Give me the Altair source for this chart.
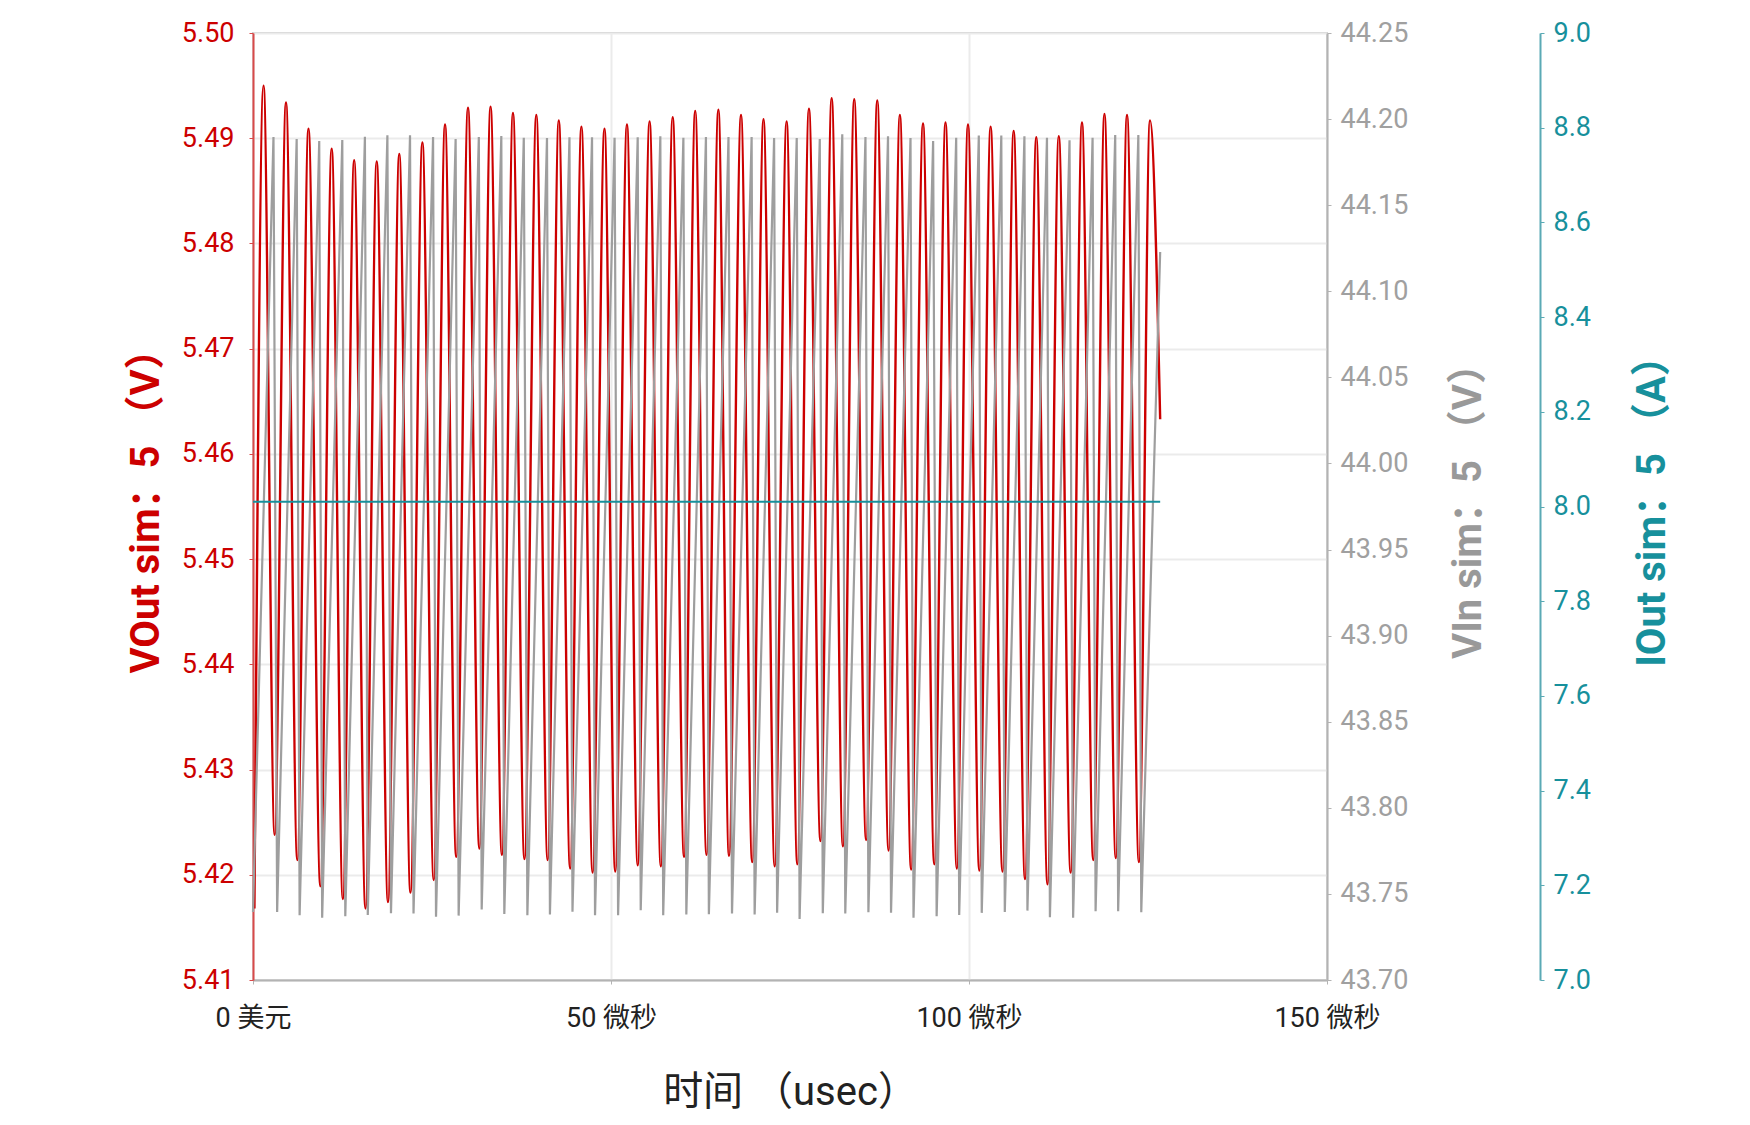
import altair as alt
import pandas as pd

# VOut sim (red) - turning points, time in usec
red_peak_t = [1.47, 4.61, 7.75, 10.99, 14.13, 17.28, 20.43, 23.66, 26.82, 30.03,
              33.18, 36.31, 39.57, 42.71, 45.87, 49.09, 52.23, 55.39, 58.62, 61.76,
              65.00, 68.16, 71.30, 74.53, 77.65, 80.82, 83.97, 87.19, 90.35, 93.58,
              96.72, 99.86, 103.02, 106.24, 109.40, 112.54, 115.78, 118.92, 122.07, 125.28]
red_peak_v = [5.4950, 5.4934, 5.4909, 5.4890, 5.4879, 5.4878, 5.4885, 5.4896, 5.4913, 5.4929,
              5.4930, 5.4924, 5.4922, 5.4917, 5.4911, 5.4909, 5.4913, 5.4916, 5.4920, 5.4926,
              5.4927, 5.4922, 5.4918, 5.4916, 5.4928, 5.4938, 5.4937, 5.4936, 5.4922, 5.4914,
              5.4915, 5.4913, 5.4911, 5.4907, 5.4901, 5.4902, 5.4915, 5.4923, 5.4922, 5.4917]
red_trough_t = [3.03, 6.19, 9.41, 12.55, 15.71, 18.85, 21.99, 25.24, 28.38, 31.61,
                34.76, 37.91, 41.15, 44.29, 47.43, 50.59, 53.73, 56.96, 60.20, 63.34,
                66.48, 69.72, 72.86, 76.02, 79.25, 82.39, 85.63, 88.77, 91.91, 95.15,
                98.30, 101.44, 104.68, 107.82, 110.96, 114.20, 117.35, 120.50, 123.73]
red_trough_v = [5.4238, 5.4214, 5.4189, 5.4177, 5.4168, 5.4174, 5.4183, 5.4195, 5.4217, 5.4225,
                5.4219, 5.4215, 5.4214, 5.4206, 5.4202, 5.4203, 5.4209, 5.4208, 5.4217, 5.4219,
                5.4218, 5.4212, 5.4208, 5.4210, 5.4232, 5.4227, 5.4233, 5.4223, 5.4205, 5.4210,
                5.4206, 5.4204, 5.4203, 5.4196, 5.4191, 5.4202, 5.4214, 5.4216, 5.4212]
red_edge_t = [0.2, 126.7]
red_edge_v = [5.4168, 5.4633]

# VIn sim (gray) - sawtooth peaks and troughs
gray_peak_t = [2.86, 6.10, 9.25, 12.47, 15.63, 18.77, 21.93, 25.15, 28.30, 31.54,
               34.68, 37.82, 41.06, 44.20, 47.35, 50.50, 53.73, 56.89, 60.11, 63.26,
               66.41, 69.64, 72.78, 75.94, 79.16, 82.30, 85.54, 88.69, 91.83, 94.99,
               98.21, 101.37, 104.51, 107.74, 110.89, 114.04, 117.26, 120.42, 123.65]
gray_peak_v = [44.1896, 44.1884, 44.1873, 44.1879, 44.1898, 44.1906, 44.1906, 44.1896, 44.1884, 44.1896,
               44.1902, 44.1892, 44.1890, 44.1894, 44.1894, 44.1892, 44.1894, 44.1900, 44.1892, 44.1896,
               44.1896, 44.1896, 44.1890, 44.1890, 44.1884, 44.1912, 44.1896, 44.1900, 44.1890, 44.1873,
               44.1892, 44.1904, 44.1904, 44.1900, 44.1892, 44.1877, 44.1892, 44.1908, 44.1908]
gray_trough_t = [3.37, 6.51, 9.66, 12.89, 16.03, 19.27, 22.42, 25.56, 28.72, 31.94,
                 35.10, 38.32, 41.47, 44.62, 47.77, 50.99, 54.15, 57.29, 60.52, 63.67,
                 66.90, 70.06, 73.20, 76.34, 79.58, 82.72, 85.95, 89.11, 92.25, 95.48,
                 98.63, 101.78, 105.00, 108.16, 111.30, 114.54, 117.68, 120.83, 124.06]
gray_trough_v = [43.7395, 43.7376, 43.7362, 43.7370, 43.7378, 43.7388, 43.7386, 43.7368, 43.7374, 43.7409,
                 43.7384, 43.7376, 43.7380, 43.7397, 43.7376, 43.7376, 43.7405, 43.7376, 43.7380, 43.7382,
                 43.7386, 43.7380, 43.7391, 43.7355, 43.7388, 43.7386, 43.7394, 43.7391, 43.7362, 43.7370,
                 43.7378, 43.7390, 43.7395, 43.7403, 43.7365, 43.7361, 43.7399, 43.7399, 43.7394]
gray_edge_t = [0.0, 126.7]
gray_edge_v = [43.7395, 44.1228]

# IOut sim (teal) - flat
iout_t = [0.0, 126.7]
iout_v = [8.01, 8.01]

x_ticks = [0, 50, 100, 150]
vout_ticks = [5.41, 5.42, 5.43, 5.44, 5.45, 5.46, 5.47, 5.48, 5.49, 5.50]
vin_ticks = [43.70, 43.75, 43.80, 43.85, 43.90, 43.95, 44.00, 44.05, 44.10, 44.15, 44.20, 44.25]
iout_ticks = [7.0, 7.2, 7.4, 7.6, 7.8, 8.0, 8.2, 8.4, 8.6, 8.8, 9.0]

FONT = "Roboto, 'Noto Sans CJK SC', sans-serif"
RED, GRAY, TEAL = "#cc0000", "#9e9e9e", "#17909c"


def series(*pairs):
    frames = [pd.DataFrame({"t": t, "v": v}) for t, v in pairs]
    return pd.concat(frames).sort_values("t").reset_index(drop=True)


red_df = series((red_peak_t, red_peak_v), (red_trough_t, red_trough_v), (red_edge_t, red_edge_v))
gray_df = series((gray_peak_t, gray_peak_v), (gray_trough_t, gray_trough_v), (gray_edge_t, gray_edge_v))
iout_df = pd.DataFrame({"t": iout_t, "v": iout_v})

x_enc = alt.X(
    "t:Q",
    scale=alt.Scale(domain=[0, 150], nice=False, zero=False),
    axis=alt.Axis(
        values=x_ticks,
        labelExpr="datum.value == 0 ? '0 美元' : datum.value + ' 微秒'",
        labelFlush=False,
        title="时间 （usec）",
        titleFont=FONT, titleFontSize=40, titleFontWeight="normal", titleColor="#222222",
        titleX=537, titleY=112, titleBaseline="middle", titleAlign="center",
        labelFont=FONT, labelFontSize=27, labelColor="#222222", labelPadding=21,
        domainColor="#b3b3b3", domainWidth=2, tickColor="#b3b3b3", tickSize=4,
        grid=True, gridColor="#ebebeb", gridWidth=2,
    ),
)


def y_axis(title, color, label_color, domain_color, ticks, fmt, orient, title_x,
           offset=0, grid=False, pad=9):
    return alt.Axis(
        orient=orient, offset=offset, values=ticks, format=fmt,
        title=title, titleFont=FONT, titleFontSize=40, titleFontWeight="bold", titleColor=color,
        titleAngle=270, titleX=title_x, titleY=468, titleAlign="center", titleBaseline="middle",
        labelFont=FONT, labelFontSize=27, labelColor=label_color, labelPadding=pad,
        domainColor=domain_color, domainWidth=2, tickColor=domain_color, tickSize=4,
        grid=grid, gridColor="#ebebeb", gridWidth=2,
    )


gray = alt.Chart(gray_df).mark_line(color=GRAY, strokeWidth=2.2).encode(
    x=x_enc,
    y=alt.Y("v:Q", scale=alt.Scale(domain=[43.70, 44.25], nice=False, zero=False),
            axis=y_axis("VIn sim：5 （V）", "#999999", "#a0a0a0", "#b3b3b3",
                        vin_ticks, ".2f", "right", 141)),
)

red = alt.Chart(red_df).mark_line(color=RED, strokeWidth=2.4, interpolate="monotone").encode(
    x=x_enc,
    y=alt.Y("v:Q", scale=alt.Scale(domain=[5.41, 5.50], nice=False, zero=False),
            axis=y_axis("VOut sim：5 （V）", RED, RED, "#d84a4a",
                        vout_ticks, ".2f", "left", -107, grid=True, pad=15)),
)

iout = alt.Chart(iout_df).mark_line(color=TEAL, strokeWidth=2.2).encode(
    x=x_enc,
    y=alt.Y("v:Q", scale=alt.Scale(domain=[7.0, 9.0], nice=False, zero=False),
            axis=y_axis("IOut sim：5 （A）", TEAL, TEAL, "#5aaab5",
                        iout_ticks, ".1f", "right", 112, offset=213)),
)

chart = (
    alt.layer(red, gray, iout)
    .resolve_scale(y="independent")
    .properties(width=1074, height=947, padding={"left": 118, "top": 11, "right": 5, "bottom": 5})
    .configure_view(stroke="#cccccc", strokeWidth=2)
)

chart.save("out.html", embed_options={"renderer": "svg", "actions": False})
